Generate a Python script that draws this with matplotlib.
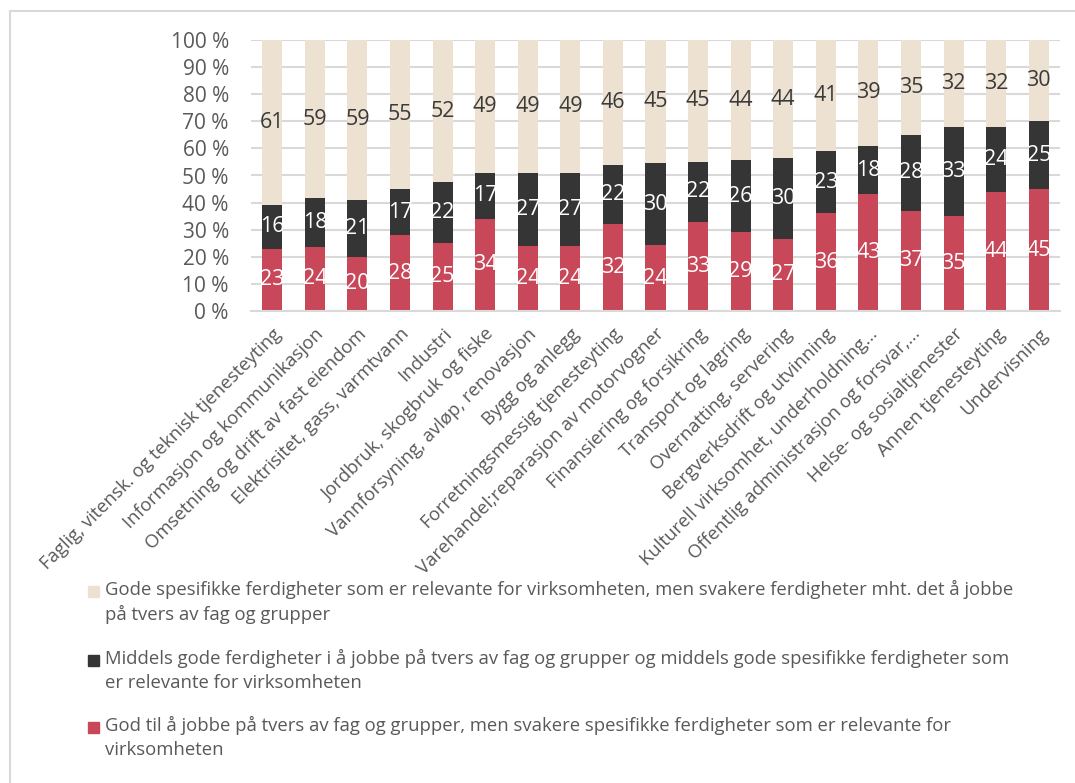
import numpy as np
import matplotlib.pyplot as plt
from matplotlib.patches import Rectangle
from matplotlib.lines import Line2D

plt.rcParams['font.family'] = ['Open Sans', 'DejaVu Sans']

# næringer, sortert etter andel "gode spesifikke ferdigheter"
naering = [
    "Faglig, vitensk. og teknisk tjenesteyting",
    "Informasjon og kommunikasjon",
    "Omsetning og drift av fast eiendom",
    "Elektrisitet, gass, varmtvann",
    "Industri",
    "Jordbruk, skogbruk og fiske",
    "Vannforsyning, avløp, renovasjon",
    "Bygg og anlegg",
    "Forretningsmessig tjenesteyting",
    "Varehandel;reparasjon av motorvogner",
    "Finansiering og forsikring",
    "Transport og lagring",
    "Overnatting, servering",
    "Bergverksdrift og utvinning",
    "Kulturell virksomhet, underholdning...",
    "Offentlig administrasjon og forsvar,...",
    "Helse- og sosialtjenester",
    "Annen tjenesteyting",
    "Undervisning",
]

god_samarbeid = [23, 24, 20, 28, 25, 34, 24, 24, 32, 24, 33, 29, 27, 36, 43, 37, 35, 44, 45]
middels = [16, 18, 21, 17, 22, 17, 27, 27, 22, 30, 22, 26, 30, 23, 18, 28, 33, 24, 25]
gode_spesifikke = [61, 59, 59, 55, 52, 49, 49, 49, 46, 45, 45, 44, 44, 41, 39, 35, 32, 32, 30]

legend_tekst = [
    "Gode spesifikke ferdigheter som er relevante for virksomheten, men svakere ferdigheter mht. det å jobbe\npå tvers av fag og grupper",
    "Middels gode ferdigheter i å jobbe på tvers av fag og grupper og middels gode spesifikke ferdigheter som\ner relevante for virksomheten",
    "God til å jobbe på tvers av fag og grupper, men svakere spesifikke ferdigheter som er relevante for\nvirksomheten",
]

RED = "#C8485A"
DARK = "#353535"
BEIGE = "#EDE1D2"
GREY = "#595959"

fig = plt.figure(figsize=(10.75, 7.83), dpi=100)
ax = fig.add_axes([251 / 1075, 1 - 311 / 783, (1060 - 251) / 1075, (311 - 40) / 783])

n = len(god_samarbeid)
x = np.arange(n)
raw = np.array([god_samarbeid, middels, gode_spesifikke], dtype=float)
# 100 % stablet: normaliser hver søyle
pct = raw / raw.sum(axis=0) * 100

bottom = np.zeros(n)
for row, vals, col, tcol in zip(pct, raw, [RED, DARK, BEIGE], ["white", "white", "#3A3A3A"]):
    ax.bar(x, row, bottom=bottom, width=0.47, color=col, zorder=2)
    for xi, b, h, v in zip(x, bottom, row, vals):
        ax.text(xi, b + h / 2, f"{int(v)}", ha="center", va="center",
                color=tcol, fontsize=15.5, zorder=3)
    bottom += row

ax.set_xlim(-0.5, n - 0.5)
ax.set_ylim(0, 100)
ax.set_yticks(np.arange(0, 101, 10))
ax.set_yticklabels([f"{v} %" for v in range(0, 101, 10)], fontsize=15, color=GREY)
ax.yaxis.grid(True, color="#D9D9D9", linewidth=1.5, zorder=0)
ax.tick_params(axis="y", length=0, pad=16)
ax.tick_params(axis="x", length=0, pad=10)
ax.set_xticks(x)
ax.set_xticklabels(naering, rotation=45, ha="right", rotation_mode="anchor",
                   fontsize=13.3, color=GREY)
for s in ["top", "right", "left"]:
    ax.spines[s].set_visible(False)
ax.spines["bottom"].set_color("#D9D9D9")
ax.spines["bottom"].set_linewidth(1.5)

# forklaring
W, H = 1075, 783
for i, (txt, col) in enumerate(zip(legend_tekst, [BEIGE, DARK, RED])):
    y0 = [591, 660, 727][i]
    fig.patches.append(Rectangle((88 / W, 1 - (y0 + 6) / H), 11 / W, 11 / H,
                                 transform=fig.transFigure, color=col))
    fig.text(105 / W, 1 - (y0 - 11) / H, txt, ha="left", va="top",
             fontsize=13.3, color=GREY, linespacing=1.42)

# ramme (venstre og topp)
fig.lines.append(Line2D([10 / W, 10 / W], [0, 1 - 11 / H], transform=fig.transFigure,
                        color="#D9D9D9", linewidth=1.5))
fig.lines.append(Line2D([10 / W, 1], [1 - 11 / H, 1 - 11 / H], transform=fig.transFigure,
                        color="#D9D9D9", linewidth=1.5))

fig.savefig("out.png", dpi=100, facecolor="white")
